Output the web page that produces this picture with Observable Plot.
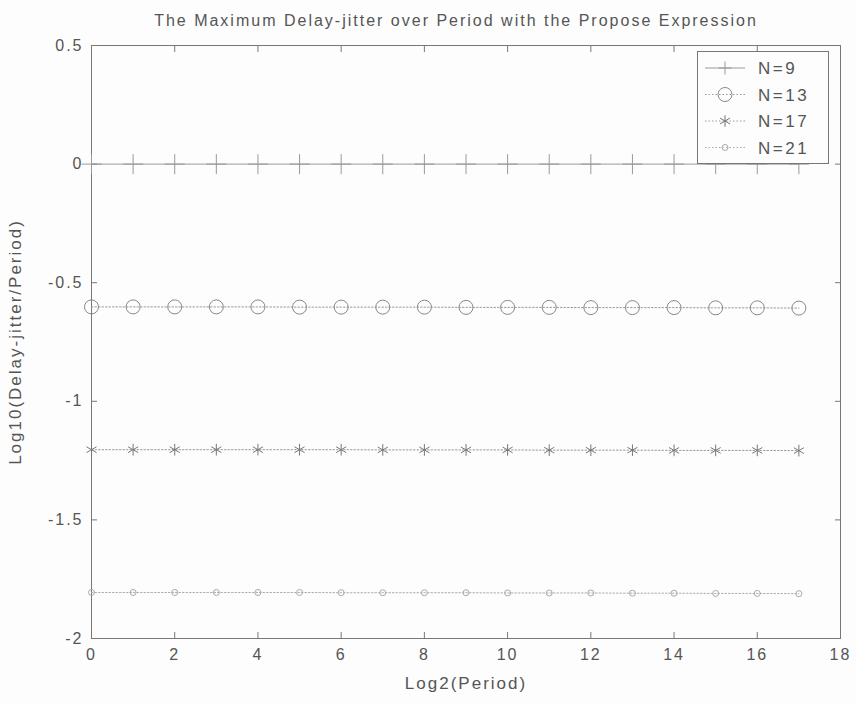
<!DOCTYPE html>
<html><head><meta charset="utf-8">
<script src="https://cdn.jsdelivr.net/npm/d3@7"></script>
<script src="https://cdn.jsdelivr.net/npm/@observablehq/plot@0.6"></script>
<style>
body{margin:0;background:#fdfdfd;font-family:"Liberation Sans",Arial,sans-serif;}
#wrap{position:relative;width:856px;height:704px;}
</style></head><body><div id="wrap"></div>
<script>
const periods = [0,1,2,3,4,5,6,7,8,9,10,11,12,13,14,15,16,17];
const seriesNames = ["N=9","N=13","N=17","N=21"];
const n9  = [0,0,0,0,0,0,0,0,0,0,0,0,0,0,0,0,0,0];
const n13 = [-0.602,-0.602,-0.602,-0.602,-0.602,-0.603,-0.603,-0.603,-0.603,-0.604,-0.604,-0.604,-0.605,-0.605,-0.605,-0.606,-0.606,-0.607];
const n17 = [-1.204,-1.204,-1.204,-1.204,-1.204,-1.204,-1.204,-1.205,-1.205,-1.205,-1.205,-1.206,-1.206,-1.206,-1.207,-1.207,-1.207,-1.208];
const n21 = [-1.806,-1.806,-1.806,-1.806,-1.806,-1.806,-1.807,-1.807,-1.807,-1.807,-1.808,-1.808,-1.808,-1.809,-1.809,-1.810,-1.810,-1.811];
const xTicks = [0,2,4,6,8,10,12,14,16,18];
const yTicks = [0.5,0,-0.5,-1,-1.5,-2];
const yTickLabels = ["0.5","0","-0.5","-1","-1.5","-2"];
const titleText = "The Maximum Delay-jitter over Period with the Propose Expression";
const xLabel = "Log2(Period)";
const yLabel = "Log10(Delay-jitter/Period)";

const FONT = "Liberation Sans, Arial, sans-serif";
const styles = [
  {symbol:"plus", r:6.5, dash:null, stroke:"#9a9a9a", mark:"#999"},
  {symbol:"circle", r:7, dash:"1.5,2", stroke:"#999", mark:"#888"},
  {symbol:"asterisk", r:5.5, dash:"1.5,2", stroke:"#999", mark:"#777"},
  {symbol:"circle", r:3, dash:"1.5,2", stroke:"#aaa", mark:"#aaa"}
];
const allSeries = [n9,n13,n17,n21];
const data = [];
allSeries.forEach((s,i)=>s.forEach((v,j)=>data.push({x:periods[j], y:v, s:seriesNames[i]})));

const marks = [];
seriesNames.forEach((name,i)=>{
  const d = data.filter(r=>r.s===name);
  const st = styles[i];
  marks.push(Plot.line(d,{x:"x",y:"y",stroke:st.stroke,strokeWidth:1,strokeDasharray:st.dash}));
  marks.push(Plot.dot(d,{x:"x",y:"y",symbol:()=>st.symbol,r:st.r,stroke:st.mark,strokeWidth:1,fill:"none"}));
});

const chart = Plot.plot({
  width:856, height:704,
  marginLeft:91, marginRight:16, marginTop:45, marginBottom:66,
  style:{fontFamily:FONT, fontSize:"16px", color:"#555", background:"transparent", letterSpacing:"2px"},
  x:{domain:[0,18]},
  y:{domain:[-2,0.5]},
  marks:[
    Plot.frame({stroke:"#777"}),
    Plot.axisX(xTicks,{anchor:"bottom",tickSize:-6,tickPadding:16,stroke:"#777",fill:"#555",label:null}),
    Plot.axisX(xTicks,{anchor:"top",tickSize:-6,tickFormat:()=>"",stroke:"#777",label:null}),
    Plot.axisY(yTicks,{anchor:"left",tickSize:-6,tickPadding:14,stroke:"#777",fill:"#555",tickFormat:(d,i)=>yTickLabels[i],label:null}),
    Plot.axisY(yTicks,{anchor:"right",tickSize:-6,tickFormat:()=>"",stroke:"#777",label:null}),
    ...marks,
    Plot.text([titleText],{frameAnchor:"top",text:d=>d,dx:-10,dy:-31,fontSize:16,fill:"#555",letterSpacing:"3px"}),
    Plot.text([xLabel],{frameAnchor:"bottom",text:d=>d,dy:50,fontSize:17,fill:"#555",letterSpacing:"1.5px"}),
    Plot.text([yLabel],{frameAnchor:"left",textAnchor:"middle",text:d=>d,dx:-76,rotate:-90,fontSize:17,fill:"#555",letterSpacing:"1.5px"})
  ]
});
document.getElementById("wrap").appendChild(chart);

// legend box
const lg = d3.select("#wrap").append("svg")
  .style("position","absolute").style("left","697px").style("top","51px")
  .attr("width",132).attr("height",113);
lg.append("rect").attr("x",0.5).attr("y",0.5).attr("width",131).attr("height",112).attr("fill","#fdfdfd").attr("stroke","#777");
const sym = {plus:d3.symbolPlus, circle:d3.symbolCircle, asterisk:d3.symbolAsterisk};
seriesNames.forEach((name,i)=>{
  const st = styles[i];
  const y = 17 + i*26.5;
  lg.append("line").attr("x1",8).attr("x2",48).attr("y1",y).attr("y2",y).attr("stroke",st.stroke).attr("stroke-dasharray",st.dash);
  const area = Math.PI*st.r*st.r;
  if (st.symbol==="plus") {
    lg.append("path").attr("d",`M28,${y-st.r}V${y+st.r}M${28-st.r},${y}H${28+st.r}`).attr("stroke",st.mark).attr("fill","none");
  } else {
    lg.append("path").attr("transform",`translate(28,${y})`).attr("d",d3.symbol(sym[st.symbol], area)()).attr("stroke",st.mark).attr("fill","none");
  }
  lg.append("text").attr("x",61).attr("y",y+6).text(name).attr("font-size",17).attr("fill","#555")
    .attr("font-family",FONT).style("letter-spacing","2.5px");
});
</script></body></html>
